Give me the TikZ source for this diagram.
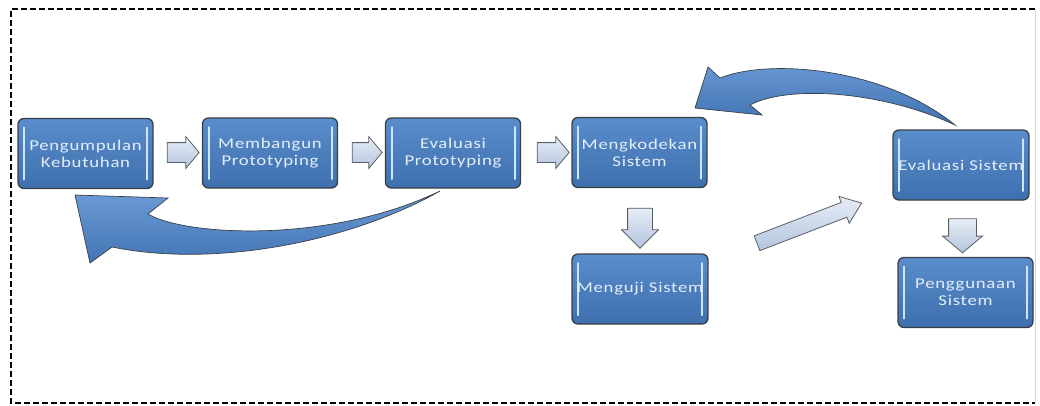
\documentclass[tikz,border=0pt]{standalone}
\usepackage{fontspec}
\setmainfont{Carlito}[FakeStretch=1.25,LetterSpace=5]
\usetikzlibrary{shapes.arrows}
\definecolor{boxtop}{HTML}{5A8DCB}
\definecolor{boxbot}{HTML}{3E6FAE}
\definecolor{boxedge}{HTML}{3A3F47}
\definecolor{hlcol}{HTML}{CDE6FF}
\definecolor{arrtop}{HTML}{E6EDF6}
\definecolor{arrbot}{HTML}{B4C5DD}
\definecolor{arredge}{HTML}{5A5F66}
\definecolor{curtop}{HTML}{6C9BD6}
\definecolor{curbot}{HTML}{3F72B2}
\definecolor{txtcol}{HTML}{E4EEFA}
\begin{document}
\begin{tikzpicture}[x=1pt,y=-1pt,
  stepbox/.style={rectangle, rounded corners=6pt, draw=boxedge, line width=1.3pt,
    top color=boxtop, bottom color=boxbot, minimum width=135pt, minimum height=70pt,
    text=txtcol, align=center, font=\fontsize{15}{17}\selectfont, inner sep=0pt,
    path picture={
      \draw[line width=2pt, hlcol, line cap=round]
        ([xshift=6pt,yshift=-9pt]path picture bounding box.north west) --
        ([xshift=6pt,yshift=9pt]path picture bounding box.south west);
      \draw[line width=2pt, hlcol, line cap=round]
        ([xshift=-6pt,yshift=-9pt]path picture bounding box.north east) --
        ([xshift=-6pt,yshift=9pt]path picture bounding box.south east);}},
  blockarrow/.style={shape=single arrow, draw=arredge, line width=0.8pt,
    top color=arrtop, bottom color=arrbot, inner xsep=0pt,
    single arrow head indent=0pt},
  curvearrow/.style={draw=boxedge, line width=0.7pt, top color=curtop, bottom color=curbot}
]
\useasboundingbox (0,0) rectangle (1040,405);
% border
\draw[black, line width=1.6pt, dash pattern=on 6pt off 3pt]
  (1035,9) -- (11,9) -- (11,403) -- (1035,403);
\draw[black!15, line width=0.8pt] (1035,9) -- (1035,403);

% boxes
\node[stepbox] (b1) at (85.5,153.5) {Pengumpulan\\Kebutuhan};
\node[stepbox] (b2) at (270,153) {Membangun\\Prototyping};
\node[stepbox] (b3) at (453,153) {Evaluasi\\Prototyping};
\node[stepbox] (b4) at (639.5,152.5) {Mengkodekan\\Sistem};
\node[stepbox, minimum width=136pt] (b5) at (961,165) {Evaluasi Sistem};
\node[stepbox, minimum width=136pt] (b6) at (640,289) {Menguji Sistem};
\node[stepbox] (b7) at (965.5,292.5) {Penggunaan\\Sistem};

% small block arrows
\node[blockarrow, inner ysep=9.5pt, minimum height=32pt,
  single arrow head extend=6pt, single arrow tip angle=100] (a1) at (179,152.5) {};
\node[blockarrow, inner ysep=9.5pt, minimum height=30pt,
  single arrow head extend=6pt, single arrow tip angle=100] (a2) at (363,152.5) {};
\node[blockarrow, inner ysep=9.5pt, minimum height=32pt,
  single arrow head extend=6pt, single arrow tip angle=100] (a3) at (549,152.5) {};
\node[blockarrow, rotate=-90, inner ysep=12pt, minimum height=40pt,
  single arrow head extend=6pt, single arrow tip angle=90] (d1) at (640,222) {};
\node[blockarrow, rotate=-90, inner ysep=13.5pt, minimum height=34pt,
  single arrow head extend=6pt, single arrow tip angle=100] (d2) at (962.5,230) {};
\node[blockarrow, rotate=21, inner ysep=7.5pt, minimum height=112pt,
  single arrow head extend=6.5pt, single arrow tip angle=75] (dg) at (804.5,225) {};

% curved arrow back to Pengumpulan Kebutuhan
\path[curvearrow] (75,195) -- (168,198) -- (148,214)
  .. controls (185,236) and (330,244) .. (440,191)
  .. controls (350,242) and (215,268) .. (112,247)
  -- (90,263) -- cycle;
% curved arrow back to Mengkodekan Sistem
\path[curvearrow] (695,108) -- (708,67) -- (720,78)
  .. controls (770,58) and (885,68) .. (955,125)
  .. controls (885,92) and (790,84) .. (750,105)
  -- (762,115) -- cycle;
\end{tikzpicture}
\end{document}
